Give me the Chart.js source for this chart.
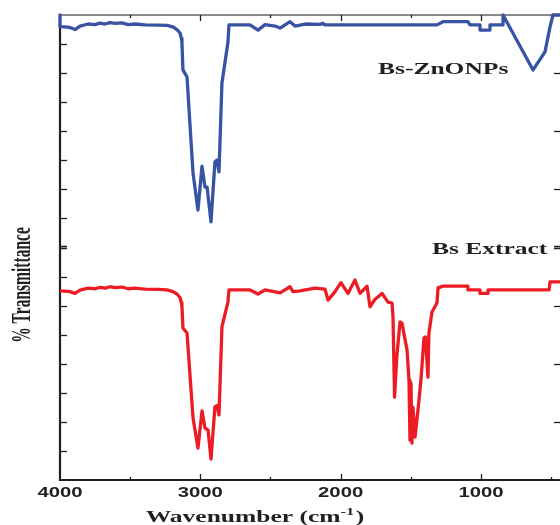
<!DOCTYPE html>
<html>
<head>
<meta charset="utf-8">
<title>FTIR spectra</title>
<script src="https://cdn.jsdelivr.net/npm/chart.js@4.4.1/dist/chart.umd.min.js"></script>
<style>
  html, body { margin: 0; padding: 0; background: #fff; }
  canvas { display: block; }
</style>
</head>
<body>
<canvas id="ftirChart" width="560" height="525"></canvas>
<script>
// Bs-ZnONPs spectrum (wavenumber, % transmittance in chart units)
const blueWn = [4000, 4000, 3964, 3929, 3893, 3857, 3800, 3751, 3715, 3679, 3644, 3608, 3558, 3515, 3466, 3394, 3300, 3238, 3195, 3167, 3145, 3135, 3131, 3124, 3095, 3052, 3017, 2988, 2967, 2952, 2924, 2896, 2881, 2867, 2846, 2803, 2796, 2703, 2646, 2589, 2539, 2468, 2432, 2361, 2325, 2254, 2147, 2126, 2112, 1313, 1271, 1093, 1078, 1007, 1007, 936, 936, 843, 843, 629, 544, 508, 487, 437];
const blueT = [160, 156.0, 155.9, 155.7, 155.0, 156.2, 156.9, 156.7, 157.2, 156.9, 157.4, 157.1, 157.3, 156.7, 156.9, 156.6, 156.5, 156.4, 155.9, 155.0, 153.8, 152.0, 150.5, 141.1, 138.7, 105.6, 92.9, 108.0, 100.8, 100.8, 88.8, 109.4, 110.1, 106.0, 136.6, 150.7, 156.6, 156.6, 156.6, 154.8, 156.7, 156.2, 155.5, 157.7, 156.2, 156.9, 156.8, 157.1, 156.6, 156.6, 157.7, 157.7, 156.6, 156.6, 154.8, 154.8, 156.6, 156.6, 160, 141.1, 147.3, 155.9, 160, 160];

// Bs Extract spectrum
const redWn = [4000, 3964, 3929, 3893, 3857, 3800, 3751, 3715, 3679, 3644, 3608, 3558, 3515, 3466, 3394, 3300, 3238, 3195, 3167, 3145, 3135, 3131, 3124, 3095, 3052, 3017, 2988, 2967, 2945, 2924, 2896, 2881, 2867, 2846, 2803, 2796, 2703, 2646, 2589, 2539, 2432, 2361, 2340, 2290, 2183, 2112, 2090, 2040, 1998, 1948, 1898, 1862, 1812, 1791, 1755, 1705, 1663, 1634, 1627, 1616, 1599, 1577, 1563, 1527, 1513, 1506, 1499, 1492, 1485, 1470, 1449, 1428, 1406, 1396, 1378, 1371, 1349, 1314, 1306, 1271, 1093, 1093, 1007, 1007, 950, 950, 515, 508, 437];
const redT = [65.1, 65.0, 64.8, 64.2, 65.3, 66.0, 65.8, 66.3, 66.0, 66.5, 66.2, 66.4, 65.8, 66.0, 65.7, 65.6, 65.4, 64.8, 64.0, 62.8, 61.0, 59.8, 52.3, 50.6, 21.3, 11.0, 23.8, 17.9, 17.2, 7.2, 25.2, 25.6, 22.4, 52.7, 61.3, 65.4, 65.4, 65.4, 64.0, 65.4, 64.4, 66.5, 64.8, 65.1, 66.0, 65.7, 61.9, 64.8, 67.9, 64.2, 68.8, 64.2, 66.7, 59.6, 62.2, 64.2, 61.2, 60.9, 56.1, 28.5, 43.0, 54.4, 54.0, 44.7, 34.4, 13.7, 33.4, 12.7, 25.1, 14.8, 24.1, 34.4, 48.9, 49.2, 35.4, 50.6, 57.8, 60.9, 66.1, 66.7, 66.7, 65.4, 65.4, 64.2, 64.2, 65.4, 65.4, 68.2, 68.2];

// axis ticks
const xLabelValues = [4000, 3000, 2000, 1000];
const xLabels = ['4000', '3000', '2000', '1000'];
const xMajorTicks = [3000, 2000, 1000];
const xMinorTicks = [3500, 2500, 1500, 500];
const yLeftTicks = [10, 20, 30, 40, 50, 60, 70, 80, 90, 100, 110, 120, 130, 140, 150];
const yRightTicks = [20, 40, 60, 80, 100, 120, 140];

// curve labels
const seriesNames = ['Bs-ZnONPs', 'Bs Extract'];
const seriesLabelWn = [1734, 1350];
const seriesLabelT = [139.7, 77.6];

const toPoints = (xs, ys) => xs.map((x, i) => ({ x: x, y: ys[i] }));

// the original figure is stretched horizontally, so text is drawn widened
const STRETCH = 1.5;
const INK = '#231f20';

function wideText(ctx, text, x, y, font, sx, align) {
  ctx.save();
  ctx.font = font;
  ctx.translate(x, y);
  ctx.scale(sx, 1);
  ctx.textAlign = align;
  ctx.textBaseline = 'alphabetic';
  ctx.fillStyle = INK;
  ctx.fillText(text, 0, 0);
  ctx.restore();
}

const framePlugin = {
  id: 'frame',
  beforeDatasetsDraw(chart) {
    const { ctx, chartArea: a, scales: { x, y } } = chart;
    ctx.save();
    ctx.lineCap = 'butt';

    // top border (grey)
    ctx.strokeStyle = '#8a8a8a';
    ctx.lineWidth = 2;
    ctx.beginPath();
    ctx.moveTo(a.left, a.top);
    ctx.lineTo(a.right, a.top);
    ctx.stroke();

    // left + bottom axis
    ctx.strokeStyle = INK;
    ctx.lineWidth = 2.2;
    ctx.beginPath();
    ctx.moveTo(a.left, a.top);
    ctx.lineTo(a.left, a.bottom);
    ctx.lineTo(a.right, a.bottom);
    ctx.stroke();

    ctx.lineWidth = 1.3;
    // x ticks, inward on top and bottom
    const xt = (v, len) => {
      const px = Math.round(x.getPixelForValue(v)) + 0.5;
      ctx.beginPath();
      ctx.moveTo(px, a.bottom);
      ctx.lineTo(px, a.bottom - len);
      ctx.moveTo(px, a.top);
      ctx.lineTo(px, a.top + len);
      ctx.stroke();
    };
    xMajorTicks.forEach(v => xt(v, 6));
    xMinorTicks.forEach(v => xt(v, 3));

    // y ticks, inward
    yLeftTicks.forEach(v => {
      const py = Math.round(y.getPixelForValue(v)) + 0.5;
      ctx.beginPath();
      ctx.moveTo(a.left, py);
      ctx.lineTo(a.left + 7, py);
      if (v === 80) {
        ctx.moveTo(a.left, py - 2);
        ctx.lineTo(a.left + 7, py - 2);
      }
      ctx.stroke();
    });
    yRightTicks.forEach(v => {
      const py = Math.round(y.getPixelForValue(v)) + 0.5;
      ctx.beginPath();
      ctx.moveTo(a.right, py);
      ctx.lineTo(a.right - 6, py);
      if (v === 80) {
        ctx.moveTo(a.right, py - 2);
        ctx.lineTo(a.right - 6, py - 2);
      }
      ctx.stroke();
    });
    ctx.restore();
  },
  afterDraw(chart) {
    const { ctx, chartArea: a, scales: { x, y } } = chart;

    // x tick labels
    xLabelValues.forEach((v, i) => {
      wideText(ctx, xLabels[i], x.getPixelForValue(v), a.bottom + 17,
        'bold 14px "Liberation Sans", Arial, sans-serif', 1.45, 'center');
    });

    // curve names
    seriesNames.forEach((name, i) => {
      wideText(ctx, name, x.getPixelForValue(seriesLabelWn[i]), y.getPixelForValue(seriesLabelT[i]),
        'bold 17px "Liberation Serif", "Times New Roman", serif', STRETCH, 'left');
    });

    // x title with superscript
    ctx.save();
    const big = 'bold 17px "Liberation Serif", "Times New Roman", serif';
    const small = 'bold 11px "Liberation Serif", "Times New Roman", serif';
    ctx.font = big;
    const p1 = 'Wavenumber (cm', p3 = ')';
    const w1 = ctx.measureText(p1).width;
    const w3 = ctx.measureText(p3).width;
    ctx.font = small;
    const w2 = ctx.measureText('-1').width;
    const total = w1 + w2 + w3 + 1;
    ctx.translate(255, 522);
    ctx.scale(STRETCH, 1);
    ctx.fillStyle = INK;
    ctx.textAlign = 'left';
    let cx = -total / 2;
    ctx.font = big;
    ctx.fillText(p1, cx, 0);
    cx += w1;
    ctx.font = small;
    ctx.fillText('-1', cx, -7);
    cx += w2 + 1;
    ctx.font = big;
    ctx.fillText(p3, cx, 0);
    ctx.restore();

    // y title, rotated
    ctx.save();
    ctx.translate(30, 285);
    ctx.rotate(-Math.PI / 2);
    ctx.scale(1, 1.7);
    ctx.font = 'bold 15.5px "Liberation Serif", "Times New Roman", serif';
    ctx.textAlign = 'center';
    ctx.fillStyle = INK;
    ctx.fillText('% Transmittance', 0, 0);
    ctx.restore();
  }
};

new Chart(document.getElementById('ftirChart'), {
  type: 'line',
  data: {
    datasets: [
      {
        label: seriesNames[0],
        data: toPoints(blueWn, blueT),
        borderColor: '#3853a4',
        borderWidth: 3.3,
        pointRadius: 0,
        tension: 0,
        borderJoinStyle: 'round',
        clip: 4
      },
      {
        label: seriesNames[1],
        data: toPoints(redWn, redT),
        borderColor: '#ed1c24',
        borderWidth: 3.3,
        pointRadius: 0,
        tension: 0,
        borderJoinStyle: 'round',
        clip: 4
      }
    ]
  },
  options: {
    responsive: false,
    animation: false,
    layout: { padding: { left: 60, top: 15, right: 0, bottom: 45 } },
    plugins: {
      legend: { display: false },
      tooltip: { enabled: false }
    },
    scales: {
      x: { type: 'linear', reverse: true, min: 437, max: 4000, display: false },
      y: { type: 'linear', min: 0, max: 160, display: false }
    }
  },
  plugins: [framePlugin]
});
</script>
</body>
</html>
